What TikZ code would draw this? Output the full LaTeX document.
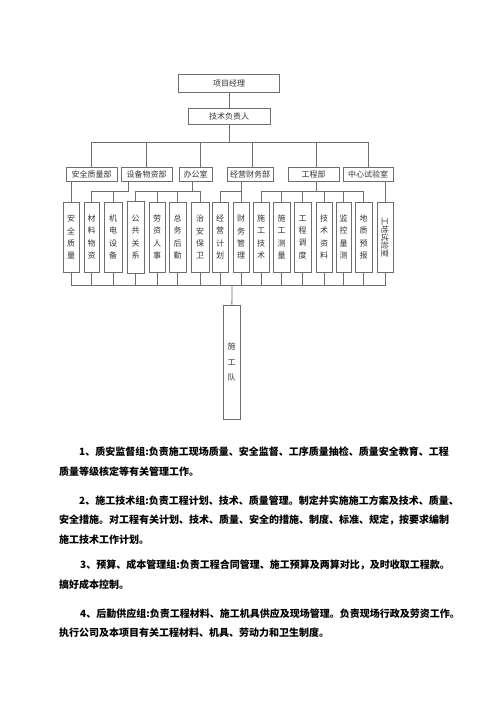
\documentclass[tikz,border=0pt]{standalone}
\usepackage{fontspec}
\usepackage{graphicx}
\newfontfamily\cjk{Noto Sans CJK SC}
\definecolor{linegray}{HTML}{6E6E6E}
\definecolor{textgray}{HTML}{333333}

\tikzset{
    link/.style = {
        linegray,
        line width=0.8pt
    },
    headbox/.style = {
        draw=linegray,
        line width=0.8pt,
        inner sep=0pt,
        minimum height=18pt,
        text=textgray,
        font=\cjk\fontsize{8}{9}\selectfont
    },
    deptbox/.style = {
        headbox,
        minimum height=14pt
    },
    itembox/.style = {
        headbox,
        minimum width=16pt,
        minimum height=70pt,
        align=center,
        font=\cjk\fontsize{8}{12.3}\selectfont
    },
    teambox/.style = {
        itembox,
        minimum width=17pt,
        minimum height=114pt,
        font=\cjk\fontsize{8}{15.5}\selectfont
    },
    para/.style = {
        anchor=west,
        inner sep=0pt,
        text=black,
        font=\cjk\bfseries\fontsize{10}{12}\selectfont
    }
}

\begin{document}
\begin{tikzpicture}[x=1pt,y=-1pt]
    \useasboundingbox (0,0) rectangle (500,706);

    % Draw the head boxes
    \node[headbox, minimum width=101pt] (pm)   at (229,83)  {项目经理};
    \node[headbox, minimum width=82pt, minimum height=16pt] (tech) at (229,116) {技术负责人};

    % Draw departments
    \node[deptbox, minimum width=51pt] (d1) at (91.5,174)  {安全质量部};
    \node[deptbox, minimum width=51pt] (d2) at (146.5,174) {设备物资部};
    \node[deptbox, minimum width=33pt] (d3) at (195.5,174) {办公室};
    \node[deptbox, minimum width=46pt] (d4) at (250,174)   {经营财务部};
    \node[deptbox, minimum width=51pt] (d5) at (313.5,174) {工程部};
    \node[deptbox, minimum width=50pt] (d6) at (368,174)   {中心试验室};

    % Draw groups
    \node[itembox]                    (i1)  at (71,237)    {安\\全\\质\\量};
    \node[itembox, minimum width=15pt] (i2)  at (91.5,237)  {材\\料\\物\\资};
    \node[itembox, minimum width=18pt] (i3)  at (113,237)   {机\\电\\设\\备};
    \node[itembox, minimum width=17pt, minimum height=72pt] (i4) at (135.5,237) {公\\共\\关\\系};
    \node[itembox]                    (i5)  at (157,237)   {劳\\资\\人\\事};
    \node[itembox, minimum width=17pt] (i6)  at (177.5,237) {总\\务\\后\\勤};
    \node[itembox, minimum width=18pt] (i7)  at (200,237)   {治\\安\\保\\卫};
    \node[itembox]                    (i8)  at (220,237)   {经\\营\\计\\划};
    \node[itembox]                    (i9)  at (241,237)   {财\\务\\管\\理};
    \node[itembox]                    (i10) at (261,237)   {施\\工\\技\\术};
    \node[itembox, minimum width=17pt] (i11) at (281.5,237) {施\\工\\测\\量};
    \node[itembox, minimum width=17pt] (i12) at (302.5,237) {工\\程\\调\\度};
    \node[itembox]                    (i13) at (324,237)   {技\\术\\资\\料};
    \node[itembox, minimum width=15pt] (i14) at (343.5,237) {监\\控\\量\\测};
    \node[itembox, minimum width=17pt] (i15) at (363.5,237) {地\\质\\预\\报};
    \node[itembox]                    (i16) at (385,237)   {\rotatebox{-90}{工地试验室}};

    % Draw the team
    \node[teambox] (team) at (231.5,362) {施\\工\\队};

    % Draw links
    \coordinate (b1) at (229,142);
    \coordinate (b2) at (128,191);
    \coordinate (b3) at (192,191);
    \coordinate (b4) at (241,191);
    \coordinate (b5) at (316,191);
    \coordinate (b6) at (232,285);

    \draw[link] (pm) -- (tech);
    \draw[link] (tech) -- (b1);
    \draw[link] (b1) -| (d1.north);
    \draw[link] (b1) -| (d2.north);
    \draw[link] (b1) -| ([xshift=4.5pt]d3.north);
    \draw[link] (b1) -| ([xshift=2pt]d4.north);
    \draw[link] (b1) -| ([xshift=2.5pt]d5.north);
    \draw[link] (b1) -| (d6.north);

    \draw[link] (d1.south -| i1) -- (i1.north);
    \draw[link] (d2.south -| b2) -- (b2) -| (i2.north);
    \draw[link] (b2 -| i3) -- (i3.north);
    \draw[link] (d3.south -| b3) -- (b3);
    \draw[link] (i4.north) |- (b3 -| i7) -- (i7.north);
    \draw[link] (b3 -| i5) -- (i5.north);
    \draw[link] (b3 -| i6) -- (i6.north);
    \draw[link] (d4.south -| b4) -- (b4) -| (i8.north);
    \draw[link] (b4 -| i9) -- (i9.north);
    \draw[link] (d5.south -| b5) -- (b5);
    \draw[link] (i10.north) |- (b5 -| i15) -- (i15.north);
    \draw[link] (b5 -| i11) -- (i11.north);
    \draw[link] (b5 -| i12) -- (i12.north);
    \draw[link] (b5 -| i13) -- (i13.north);
    \draw[link] (b5 -| i14) -- (i14.north);
    \draw[link] (d6.south -| i16) -- (i16.north);

    \draw[link] (i1.south) |- (b6 -| i16) -- (i16.south);
    \draw[link] (i2.south) -- (i2.south |- b6);
    \draw[link] (i3.south) -- (i3.south |- b6);
    \draw[link] (i4.south) -- (i4.south |- b6);
    \draw[link] (i5.south) -- (i5.south |- b6);
    \draw[link] (i6.south) -- (i6.south |- b6);
    \draw[link] (i7.south) -- (i7.south |- b6);
    \draw[link] (i8.south) -- (i8.south |- b6);
    \draw[link] (i9.south) -- (i9.south |- b6);
    \draw[link] (i10.south) -- (i10.south |- b6);
    \draw[link] (i11.south) -- (i11.south |- b6);
    \draw[link] (i12.south) -- (i12.south |- b6);
    \draw[link] (i13.south) -- (i13.south |- b6);
    \draw[link] (i14.south) -- (i14.south |- b6);
    \draw[link] (i15.south) -- (i15.south |- b6);
    \draw[link] (b6) -- (team);

    % Draw the notes
    \node[para] (p1) at (79,452) {1、质安监督组:负责施工现场质量、安全监督、工序质量抽检、质量安全教育、工程};
    \node[para] (p2) at (59,472) {质量等级核定等有关管理工作。};
    \node[para] (p3) at (79,501) {2、施工技术组:负责工程计划、技术、质量管理。制定并实施施工方案及技术、质量、};
    \node[para] (p4) at (59,520) {安全措施。对工程有关计划、技术、质量、安全的措施、制度、标准、规定，按要求编制};
    \node[para] (p5) at (59,540) {施工技术工作计划。};
    \node[para] (p6) at (80,565) {3、预算、成本管理组:负责工程合同管理、施工预算及两算对比，及时收取工程款。};
    \node[para] (p7) at (59,585) {搞好成本控制。};
    \node[para] (p8) at (80,614) {4、后勤供应组:负责工程材料、施工机具供应及现场管理。负责现场行政及劳资工作。};
    \node[para] (p9) at (59,633) {执行公司及本项目有关工程材料、机具、劳动力和卫生制度。};
\end{tikzpicture}
\end{document}
